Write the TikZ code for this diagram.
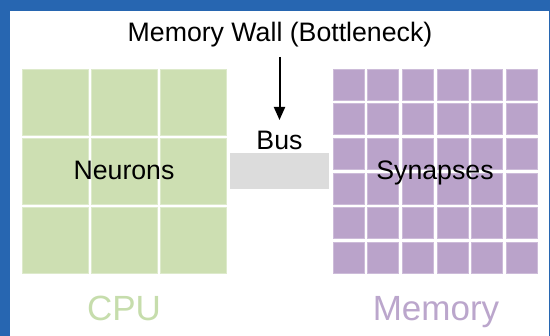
\documentclass[tikz,border=0pt]{standalone}
\usepackage{fontspec}
\setmainfont{Liberation Sans}
\usetikzlibrary{arrows.meta}
\definecolor{frameblue}{HTML}{2766B1}
\definecolor{cellgreen}{HTML}{CDDFB2}
\definecolor{edgegreen}{HTML}{DDEACB}
\definecolor{cellpurple}{HTML}{BAA3CA}
\definecolor{edgepurple}{HTML}{CDBCD9}
\definecolor{busgray}{HTML}{DCDCDC}
\definecolor{cputext}{HTML}{C6DDAC}
\definecolor{memtext}{HTML}{BBA6CC}
\tikzset{
  lbl/.style={anchor=base, inner sep=0pt, font=\fontsize{26.7}{30}\selectfont, text=black},
  biglbl/.style={anchor=base, inner sep=0pt, font=\fontsize{35}{40}\selectfont},
  gcell/.style={fill=cellgreen, draw=edgegreen, line width=0.6pt},
  pcell/.style={fill=cellpurple, draw=edgepurple, line width=0.6pt},
  arr/.style={line width=2pt, -{Triangle[width=11pt,length=13pt]}}
}
\begin{document}
\begin{tikzpicture}[x=1pt,y=-1pt]
\useasboundingbox (0,0) rectangle (550,336);
\fill[frameblue] (0,0) rectangle (550,336);
\fill[white] (10,11) rectangle (549,336);
% CPU grid
\foreach \i in {0,1,2}{
  \foreach \j in {0,1,2}{
    \path[gcell] ({22+69*\i},{69+69*\j}) rectangle ++(66,66);
  }
}
% Memory grid
\foreach \i in {0,...,5}{
  \foreach \j in {0,...,5}{
    \path[pcell] ({333+34.67*\i},{69+34.67*\j}) rectangle ++(31,31);
  }
}
% Bus
\node[fill=busgray, minimum width=99pt, minimum height=36pt, inner sep=0pt, anchor=north west] (busbar) at (230,153) {};
% Texts
\node[lbl] (title) at (280,42) {Memory Wall (Bottleneck)};
\node[lbl] (bus) at (279.5,150) {Bus};
\node[lbl] (neurons) at (124,180) {Neurons};
\node[lbl] (synapses) at (435,180) {Synapses};
\node[biglbl, text=cputext] (cpu) at (124,321) {CPU};
\node[biglbl, text=memtext] (memory) at (436,321) {Memory};
% Arrow
\coordinate (arrS) at (279.5,57);
\coordinate (arrE) at (279.5,120);
\draw[arr] (arrS) -- (arrE);
\end{tikzpicture}
\end{document}
